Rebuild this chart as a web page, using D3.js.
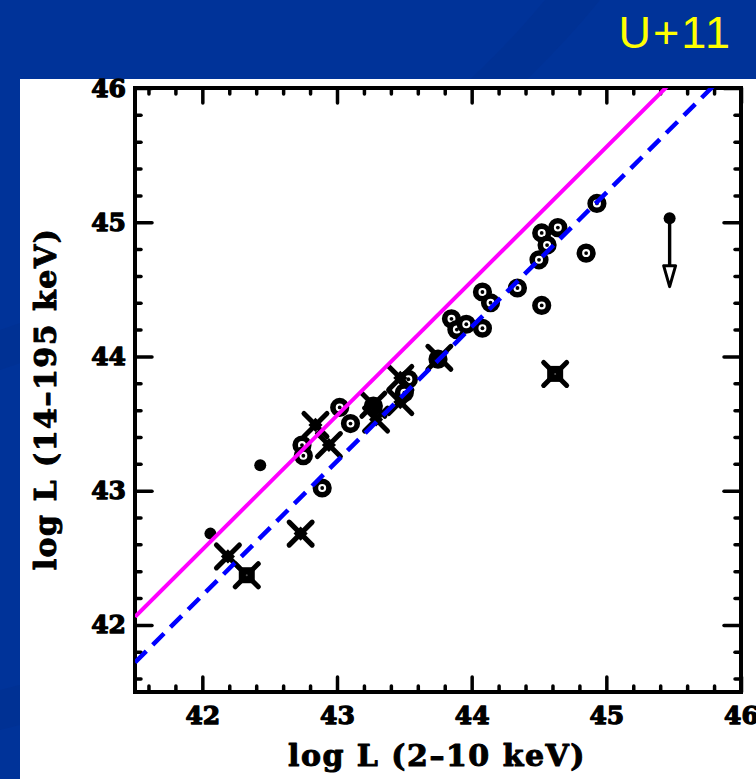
<!DOCTYPE html>
<html>
<head>
<meta charset="utf-8">
<script src="https://cdn.jsdelivr.net/npm/d3@7"></script>
<style>
  html, body { margin: 0; padding: 0; background: #003399; }
  svg { display: block; }
</style>
</head>
<body>
<svg id="chart" width="756" height="779"></svg>
<script>
// Axis ticks
const majorTicks = [42, 43, 44, 45, 46];
const minorTicks = d3.range(41.6, 46.01, 0.2).map(v => +v.toFixed(1));

// Sources with both luminosities measured (ring markers)
const ringX = [44.93, 44.52, 44.64, 44.56, 44.50, 44.85, 44.34, 44.52, 44.08, 44.14,
               43.85, 43.89, 43.96, 44.08, 43.75, 43.53, 43.50, 43.27, 43.02, 43.10,
               42.74, 42.75, 42.89];
const ringY = [45.14, 44.92, 44.96, 44.83, 44.72, 44.77, 44.51, 44.38, 44.48, 44.40,
               44.28, 44.20, 44.24, 44.21, 43.98, 43.83, 43.73, 43.63, 43.62, 43.50,
               43.34, 43.26, 43.02];

// Cross markers
const crossX = [42.19, 42.73, 42.84, 42.94, 43.27, 43.29, 43.47, 43.47, 43.76];
const crossY = [42.51, 42.68, 43.49, 43.34, 43.64, 43.53, 43.84, 43.66, 43.99];

// Filled squares with cross
const boxX = [42.33, 44.62];
const boxY = [42.37, 43.87];

// Filled dots
const dotX = [42.06, 42.43];
const dotY = [42.68, 43.19];

// Upper limit: value and arrow end
const limitX = [45.47];
const limitY = [45.03];
const limitTo = [44.52];

// Reference relations: log L(14-195) = log L(2-10) + offset
const solidOffset = 0.56;
const dashedOffset = 0.22;

const svg = d3.select("#chart");
const W = 756, H = 779;

// faint swooshes in the blue backdrop
svg.append("rect").attr("width", W).attr("height", H).attr("fill", "#003399");
svg.append("path")
  .attr("d", "M0,330 C150,280 380,200 545,0 L600,0 C420,220 180,310 0,370 Z")
  .attr("fill", "#00308f").attr("opacity", 0.5);
svg.append("path")
  .attr("d", "M0,690 C120,660 300,600 420,560 L420,600 C300,640 120,700 0,730 Z")
  .attr("fill", "#00308f").attr("opacity", 0.5);

// title
svg.append("text")
  .attr("x", 732).attr("y", 48)
  .attr("text-anchor", "end")
  .attr("font-family", "'Liberation Sans', Arial, sans-serif")
  .attr("font-size", 45)
  .attr("letter-spacing", 2)
  .attr("fill", "#ffff00")
  .text("U+11");

// white panel
svg.append("rect").attr("x", 20).attr("y", 79).attr("width", W - 20).attr("height", H - 79)
  .attr("fill", "#ffffff");

const pLeft = 135, pRight = 741, pTop = 88, pBottom = 692;
const x = d3.scaleLinear().domain([41.5, 46]).range([pLeft, pRight]);
const y = d3.scaleLinear().domain([41.5, 46]).range([pBottom, pTop]);

const fontFam = "'DejaVu Serif', serif";
const minorOnly = minorTicks.filter(v => !majorTicks.includes(v));

function styleAxis(g) {
  g.select(".domain").remove();
  g.selectAll(".tick line").attr("stroke", "#000").attr("stroke-width", 3.5).attr("stroke-linecap", "round");
  g.selectAll(".tick text")
    .attr("font-family", fontFam).attr("font-weight", "bold")
    .attr("font-size", 25).attr("fill", "#000")
    .attr("stroke", "#000").attr("stroke-width", 1.3).attr("stroke-linejoin", "round");
}

// major and minor ticks on all four sides, pointing inwards
svg.append("g").attr("transform", `translate(0,${pBottom})`)
  .call(d3.axisBottom(x).tickValues(majorTicks).tickSizeInner(-15).tickSizeOuter(0).tickPadding(14).tickFormat(d3.format("d")))
  .call(styleAxis);
svg.append("g").attr("transform", `translate(0,${pBottom})`)
  .call(d3.axisBottom(x).tickValues(minorOnly).tickSize(-6).tickFormat(""))
  .call(styleAxis);
svg.append("g").attr("transform", `translate(0,${pTop})`)
  .call(d3.axisTop(x).tickValues(majorTicks).tickSizeInner(-15).tickSizeOuter(0).tickFormat(""))
  .call(styleAxis);
svg.append("g").attr("transform", `translate(0,${pTop})`)
  .call(d3.axisTop(x).tickValues(minorOnly).tickSize(-6).tickFormat(""))
  .call(styleAxis);

svg.append("g").attr("transform", `translate(${pLeft},0)`)
  .call(d3.axisLeft(y).tickValues(majorTicks).tickSizeInner(-17).tickSizeOuter(0).tickPadding(9).tickFormat(d3.format("d")))
  .call(styleAxis);
svg.append("g").attr("transform", `translate(${pLeft},0)`)
  .call(d3.axisLeft(y).tickValues(minorOnly).tickSize(-6).tickFormat(""))
  .call(styleAxis);
svg.append("g").attr("transform", `translate(${pRight},0)`)
  .call(d3.axisRight(y).tickValues(majorTicks).tickSizeInner(-17).tickSizeOuter(0).tickFormat(""))
  .call(styleAxis);
svg.append("g").attr("transform", `translate(${pRight},0)`)
  .call(d3.axisRight(y).tickValues(minorOnly).tickSize(-6).tickFormat(""))
  .call(styleAxis);

// frame
svg.append("rect").attr("x", pLeft).attr("y", pTop).attr("width", pRight - pLeft).attr("height", pBottom - pTop)
  .attr("fill", "none").attr("stroke", "#000").attr("stroke-width", 4);

// axis titles
function styleTitle(t) {
  t.attr("text-anchor", "middle")
    .attr("font-family", fontFam).attr("font-weight", "bold").attr("font-size", 30)
    .attr("letter-spacing", 1.5)
    .attr("stroke", "#000").attr("stroke-width", 1).attr("stroke-linejoin", "round");
}
svg.append("text")
  .attr("x", 437).attr("y", 766)
  .call(styleTitle)
  .text("log L (2\u201310 keV)");
svg.append("text")
  .attr("transform", "translate(56,399) rotate(-90)")
  .call(styleTitle)
  .text("log L (14\u2013195 keV)");

// markers
const plot = svg.append("g");
svg.append("clipPath").attr("id", "plotClip")
  .append("rect").attr("x", pLeft).attr("y", pTop).attr("width", pRight - pLeft).attr("height", pBottom - pTop);

// rings
ringX.forEach((vx, i) => {
  const g = plot.append("g").attr("transform", `translate(${x(vx)},${y(ringY[i])})`);
  g.append("circle").attr("r", 6.8).attr("fill", "#fff").attr("stroke", "#000").attr("stroke-width", 5.6);
  g.append("circle").attr("r", 1.9).attr("fill", "#000");
});

// crosses
function drawCross(g, s, w) {
  g.append("line").attr("x1", -s).attr("y1", -s).attr("x2", s).attr("y2", s)
    .attr("stroke", "#000").attr("stroke-width", w).attr("stroke-linecap", "round");
  g.append("line").attr("x1", -s).attr("y1", s).attr("x2", s).attr("y2", -s)
    .attr("stroke", "#000").attr("stroke-width", w).attr("stroke-linecap", "round");
}
crossX.forEach((vx, i) => {
  const g = plot.append("g").attr("transform", `translate(${x(vx)},${y(crossY[i])})`);
  drawCross(g, 11.5, 5);
  g.append("rect").attr("x", -5).attr("y", -5).attr("width", 10).attr("height", 10)
    .attr("transform", "rotate(45)").attr("fill", "#000");
});

// squares with cross
boxX.forEach((vx, i) => {
  const g = plot.append("g").attr("transform", `translate(${x(vx)},${y(boxY[i])})`);
  drawCross(g, 11.5, 5);
  g.append("rect").attr("x", -8).attr("y", -8).attr("width", 16).attr("height", 16).attr("fill", "#000");
  g.append("circle").attr("r", 1).attr("fill", "#555");
});

// dots
dotX.forEach((vx, i) => {
  plot.append("circle").attr("cx", x(vx)).attr("cy", y(dotY[i])).attr("r", 6).attr("fill", "#000");
});

// upper limit
limitX.forEach((vx, i) => {
  const cx = x(vx), y0 = y(limitY[i]), y1 = y(limitTo[i]);
  plot.append("line").attr("x1", cx).attr("x2", cx).attr("y1", y0).attr("y2", y1 - 4)
    .attr("stroke", "#000").attr("stroke-width", 3.4);
  plot.append("path")
    .attr("d", `M${cx - 6},${y1 - 21} L${cx + 6},${y1 - 21} L${cx},${y1} Z`)
    .attr("fill", "#fff").attr("stroke", "#000").attr("stroke-width", 3).attr("stroke-linejoin", "round");
  plot.append("circle").attr("cx", cx).attr("cy", y0).attr("r", 6).attr("fill", "#000");
});

// relation lines
const lines = svg.append("g").attr("clip-path", "url(#plotClip)");
const xs = [41.5, 46];
lines.append("line")
  .attr("x1", x(xs[0])).attr("y1", y(xs[0] + solidOffset))
  .attr("x2", x(xs[1])).attr("y2", y(xs[1] + solidOffset))
  .attr("stroke", "#ff00ff").attr("stroke-width", 4);
lines.append("line")
  .attr("x1", x(xs[0])).attr("y1", y(xs[0] + dashedOffset))
  .attr("x2", x(xs[1])).attr("y2", y(xs[1] + dashedOffset))
  .attr("stroke", "#0000ff").attr("stroke-width", 4.5)
  .attr("stroke-dasharray", "16,9");
</script>
</body>
</html>
